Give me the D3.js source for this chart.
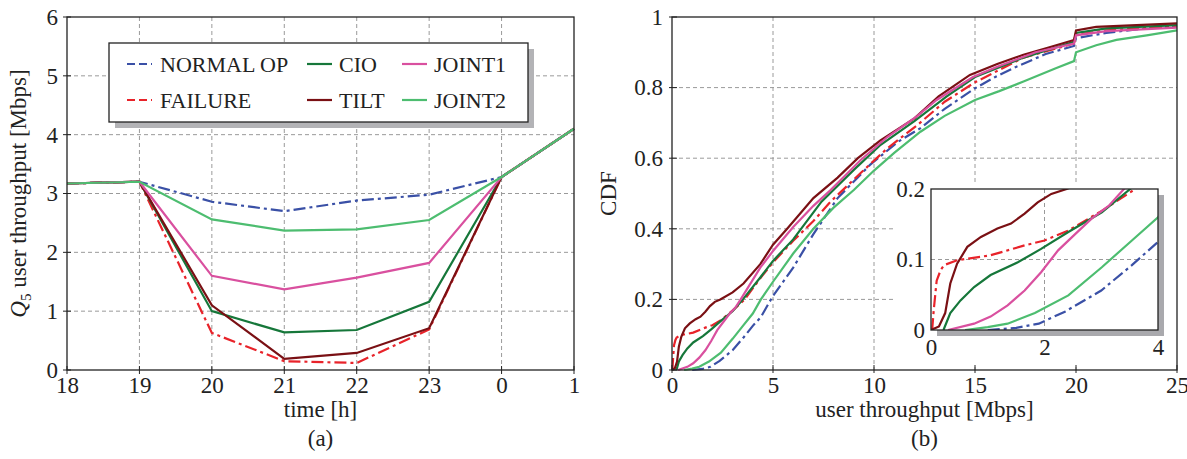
<!DOCTYPE html>
<html>
<head>
<meta charset="utf-8">
<script src="https://cdn.jsdelivr.net/npm/d3@7"></script>
<style>
  body { margin: 0; background: #fff; }
  svg text { font-family: "Liberation Serif", "DejaVu Serif", serif; fill: #222; }
</style>
</head>
<body>
<svg id="chart" width="1187" height="459"></svg>
<script>
// ---- data: panel (a), Q5 throughput per hour
var hours = ["18", "19", "20", "21", "22", "23", "0", "1"];
var normalOp = [3.17, 3.2, 2.86, 2.7, 2.88, 2.98, 3.28, 4.1];
var failure = [3.17, 3.2, 0.63, 0.15, 0.12, 0.69, 3.28, 4.1];
var cio = [3.17, 3.2, 1.0, 0.64, 0.68, 1.16, 3.28, 4.1];
var tilt = [3.17, 3.2, 1.1, 0.19, 0.29, 0.71, 3.28, 4.1];
var joint1 = [3.17, 3.2, 1.6, 1.37, 1.57, 1.82, 3.28, 4.1];
var joint2 = [3.17, 3.2, 2.56, 2.37, 2.39, 2.55, 3.28, 4.1];

// ---- data: panel (b), CDF of user throughput [Mbps, CDF]
var cdfNormalOp = [[1.0, 0], [1.5, 0.003], [1.9, 0.009], [2.36, 0.026], [3.0, 0.056], [3.54, 0.092], [4.0, 0.125], [4.4, 0.15], [5.0, 0.21], [6.0, 0.29], [7.0, 0.385], [8.2, 0.487], [9.8, 0.581], [11.2, 0.647], [12.3, 0.685], [13.5, 0.74], [15.0, 0.798], [16.0, 0.83], [17.0, 0.858], [18.5, 0.895], [19.9, 0.918], [20.0, 0.94], [21.5, 0.955], [23, 0.965], [25, 0.975]];
var cdfFailure = [[0.02, 0], [0.05, 0.03], [0.1, 0.07], [0.17, 0.085], [0.23, 0.092], [0.46, 0.099], [1.05, 0.106], [1.65, 0.12], [2.0, 0.127], [2.42, 0.141], [3.01, 0.169], [3.6, 0.2], [4.37, 0.26], [5.0, 0.305], [6.0, 0.366], [7.0, 0.422], [7.85, 0.477], [9.34, 0.558], [10.66, 0.628], [12.15, 0.694], [13.5, 0.76], [15.0, 0.815], [17.4, 0.885], [19.9, 0.925], [20.0, 0.95], [21.5, 0.962], [25, 0.975]];
var cdfCio = [[0.22, 0], [0.34, 0.024], [0.52, 0.042], [0.76, 0.061], [1.05, 0.078], [1.53, 0.096], [1.94, 0.115], [2.42, 0.139], [3.01, 0.167], [3.51, 0.2], [4.37, 0.262], [5.0, 0.309], [6.0, 0.37], [7.4, 0.477], [9.0, 0.567], [10.33, 0.638], [12.0, 0.705], [13.6, 0.775], [15.0, 0.83], [17.4, 0.885], [19.9, 0.93], [20.0, 0.955], [21.5, 0.968], [25, 0.977]];
var cdfTilt = [[0, 0], [0.14, 0.005], [0.25, 0.024], [0.34, 0.066], [0.46, 0.094], [0.64, 0.118], [0.88, 0.132], [1.17, 0.144], [1.41, 0.151], [1.65, 0.165], [1.88, 0.181], [2.12, 0.193], [2.39, 0.2], [3.0, 0.22], [3.54, 0.245], [4.37, 0.3], [5.0, 0.355], [5.7, 0.4], [7.0, 0.487], [8.2, 0.545], [9.2, 0.6], [10.3, 0.65], [12.0, 0.713], [13.2, 0.775], [14.75, 0.836], [16.1, 0.867], [17.4, 0.893], [18.6, 0.913], [19.9, 0.935], [20.0, 0.962], [21.0, 0.972], [25, 0.982]];
var cdfJoint1 = [[0.3, 0], [0.76, 0.009], [1.05, 0.019], [1.35, 0.035], [1.65, 0.056], [1.94, 0.082], [2.24, 0.113], [2.54, 0.136], [2.83, 0.158], [3.13, 0.176], [3.4, 0.2], [4.37, 0.29], [5.0, 0.337], [6.0, 0.405], [7.0, 0.465], [7.85, 0.51], [9.34, 0.595], [10.66, 0.66], [12.15, 0.72], [13.1, 0.765], [14.9, 0.83], [16.1, 0.859], [18.0, 0.9], [19.9, 0.925], [20.0, 0.948], [21.5, 0.96], [25, 0.97]];
var cdfJoint2 = [[0.6, 0], [1.0, 0.004], [1.35, 0.009], [1.83, 0.024], [2.42, 0.049], [3.01, 0.089], [3.54, 0.127], [4.0, 0.16], [4.4, 0.2], [5.0, 0.25], [6.0, 0.33], [7.0, 0.4], [8.0, 0.46], [9.0, 0.51], [10.0, 0.565], [11.0, 0.615], [12.3, 0.675], [13.5, 0.72], [15.0, 0.765], [16.2, 0.79], [17.4, 0.817], [19.0, 0.855], [19.9, 0.875], [20.0, 0.9], [21.0, 0.92], [22.0, 0.935], [23.5, 0.948], [25, 0.962]];

var seriesNames = ["NORMAL OP", "FAILURE", "CIO", "TILT", "JOINT1", "JOINT2"];
var q5Values = [normalOp, failure, cio, tilt, joint1, joint2];
var cdfValues = [cdfNormalOp, cdfFailure, cdfCio, cdfTilt, cdfJoint1, cdfJoint2];
var cdfTicksX = [0, 5, 10, 15, 20, 25];
var cdfTicksY = [0, 0.2, 0.4, 0.6, 0.8, 1];
var q5TicksY = [0, 1, 2, 3, 4, 5, 6];
var insTicksX = [0, 2, 4];
var insTicksY = [0, 0.1, 0.2];

// ---- styles
var colors = ["#3a50a6", "#e8232a", "#16773a", "#7a1014", "#d9509f", "#4dbd70"];
var dashes = ["12,4,3,4", "12,4,3,4", null, null, null, null];
var gridColor = "#9a9a9a";
var fontSize = 23;
var serif = "'Liberation Serif', 'DejaVu Serif', serif";

var svg = d3.select("#chart");

function dashedLine(g, x1, y1, x2, y2) {
  g.append("line")
    .attr("x1", x1).attr("y1", y1).attr("x2", x2).attr("y2", y2)
    .attr("stroke", gridColor)
    .attr("stroke-width", 1)
    .attr("stroke-dasharray", "4,3");
}

function tickNum(d) {
  return d === 0 || d === 1 ? String(d) : d3.format(".1f")(d);
}

// ================= panel (a) =================
var a = { left: 67, right: 574, top: 17, bottom: 370 };
var xA = d3.scalePoint().domain(hours).range([a.left, a.right]);
var yA = d3.scaleLinear().domain([0, 6]).range([a.bottom, a.top]);

var gA = svg.append("g");

// grid
hours.slice(1, -1).forEach(h => dashedLine(gA, xA(h), a.top, xA(h), a.bottom));
q5TicksY.slice(1, -1).forEach(v => dashedLine(gA, a.left, yA(v), a.right, yA(v)));

// lines
var lineA = d3.line()
  .x((d, i) => xA(hours[i]))
  .y(d => yA(d));

q5Values.forEach((vals, i) => {
  gA.append("path")
    .datum(vals)
    .attr("d", lineA)
    .attr("fill", "none")
    .attr("stroke", colors[i])
    .attr("stroke-width", 2.2)
    .attr("stroke-dasharray", dashes[i]);
});

// frame
gA.append("rect")
  .attr("x", a.left).attr("y", a.top)
  .attr("width", a.right - a.left).attr("height", a.bottom - a.top)
  .attr("fill", "none").attr("stroke", "#222").attr("stroke-width", 1.3);

// axes
gA.append("g")
  .attr("transform", "translate(0," + a.bottom + ")")
  .call(d3.axisBottom(xA).tickSize(0).tickPadding(7))
  .call(g => g.select(".domain").remove());
gA.append("g")
  .attr("transform", "translate(" + a.left + ",0)")
  .call(d3.axisLeft(yA).tickValues(q5TicksY).tickFormat(d3.format("d")).tickSize(0).tickPadding(9))
  .call(g => g.select(".domain").remove());

// tick marks crossing the axes
hours.forEach(h => {
  gA.append("line").attr("x1", xA(h)).attr("x2", xA(h)).attr("y1", a.bottom - 4).attr("y2", a.bottom + 4).attr("stroke", "#222");
});
q5TicksY.forEach(v => {
  gA.append("line").attr("x1", a.left - 4).attr("x2", a.left + 4).attr("y1", yA(v)).attr("y2", yA(v)).attr("stroke", "#222");
});

// legend
var legend = { x: 109, y: 43, w: 419, h: 79 };
gA.append("rect")
  .attr("x", legend.x + 6).attr("y", legend.y + 6)
  .attr("width", legend.w).attr("height", legend.h)
  .attr("fill", "#b3b3b6");
gA.append("rect")
  .attr("x", legend.x).attr("y", legend.y)
  .attr("width", legend.w).attr("height", legend.h)
  .attr("fill", "#fff").attr("stroke", "#222").attr("stroke-width", 1.3);

var legCols = [127, 307, 402];
var legTextCols = [160, 339, 434];
var legRows = [64, 100];
seriesNames.forEach((name, i) => {
  var col = Math.floor(i / 2), row = i % 2;
  gA.append("line")
    .attr("x1", legCols[col]).attr("x2", legCols[col] + 25)
    .attr("y1", legRows[row]).attr("y2", legRows[row])
    .attr("stroke", colors[i]).attr("stroke-width", 2.2)
    .attr("stroke-dasharray", dashes[i] ? "8,4" : null);
  gA.append("text")
    .attr("x", legTextCols[col]).attr("y", legRows[row])
    .attr("dy", "0.35em")
    .style("font-size", "22px")
    .text(name);
});

// labels
var yLab = gA.append("text")
  .attr("transform", "translate(26," + (a.top + a.bottom) / 2 + ") rotate(-90)")
  .attr("text-anchor", "middle")
  .style("font-size", fontSize + "px");
yLab.append("tspan").style("font-style", "italic").text("Q");
yLab.append("tspan").attr("dy", 5).style("font-size", "15px").text("5");
yLab.append("tspan").attr("dy", -5).text(" user throughput [Mbps]");

gA.append("text")
  .attr("x", (a.left + a.right) / 2).attr("y", 417)
  .attr("text-anchor", "middle")
  .style("font-size", fontSize + "px")
  .text("time [h]");
gA.append("text")
  .attr("x", (a.left + a.right) / 2).attr("y", 446)
  .attr("text-anchor", "middle")
  .style("font-size", fontSize + "px")
  .text("(a)");

// ================= panel (b) =================
var b = { left: 672, right: 1177, top: 17, bottom: 370 };
var xB = d3.scaleLinear().domain([0, 25]).range([b.left, b.right]);
var yB = d3.scaleLinear().domain([0, 1]).range([b.bottom, b.top]);

var gB = svg.append("g");

cdfTicksX.slice(1, -1).forEach(v => dashedLine(gB, xB(v), b.top, xB(v), b.bottom));
cdfTicksY.slice(1, -1).forEach(v => dashedLine(gB, b.left, yB(v), b.right, yB(v)));

// blank area behind the inset
gB.append("rect")
  .attr("x", 894).attr("y", 185)
  .attr("width", b.right - 894).attr("height", b.bottom - 4 - 185)
  .attr("fill", "#fff");

var lineB = d3.line()
  .x(d => xB(d[0]))
  .y(d => yB(d[1]));

cdfValues.forEach((vals, i) => {
  gB.append("path")
    .datum(vals)
    .attr("d", lineB)
    .attr("fill", "none")
    .attr("stroke", colors[i])
    .attr("stroke-width", 2.2)
    .attr("stroke-dasharray", dashes[i]);
});

gB.append("rect")
  .attr("x", b.left).attr("y", b.top)
  .attr("width", b.right - b.left).attr("height", b.bottom - b.top)
  .attr("fill", "none").attr("stroke", "#222").attr("stroke-width", 1.3);

gB.append("g")
  .attr("transform", "translate(0," + b.bottom + ")")
  .call(d3.axisBottom(xB).tickValues(cdfTicksX).tickFormat(d3.format("d")).tickSize(0).tickPadding(7))
  .call(g => g.select(".domain").remove());
gB.append("g")
  .attr("transform", "translate(" + b.left + ",0)")
  .call(d3.axisLeft(yB).tickValues(cdfTicksY).tickFormat(tickNum).tickSize(0).tickPadding(9))
  .call(g => g.select(".domain").remove());

cdfTicksX.forEach(v => {
  gB.append("line").attr("x1", xB(v)).attr("x2", xB(v)).attr("y1", b.bottom - 5).attr("y2", b.bottom + 3).attr("stroke", "#222");
});
cdfTicksY.forEach(v => {
  gB.append("line").attr("x1", b.left - 3).attr("x2", b.left + 5).attr("y1", yB(v)).attr("y2", yB(v)).attr("stroke", "#222");
});

gB.append("text")
  .attr("transform", "translate(616," + (b.top + b.bottom) / 2 + ") rotate(-90)")
  .attr("text-anchor", "middle")
  .style("font-size", fontSize + "px")
  .text("CDF");
gB.append("text")
  .attr("x", (b.left + b.right) / 2).attr("y", 417)
  .attr("text-anchor", "middle")
  .style("font-size", fontSize + "px")
  .text("user throughput [Mbps]");
gB.append("text")
  .attr("x", (b.left + b.right) / 2).attr("y", 446)
  .attr("text-anchor", "middle")
  .style("font-size", fontSize + "px")
  .text("(b)");

// ---- inset (zoom on low throughputs)
var ins = { left: 931, right: 1158, top: 189, bottom: 330 };
var xI = d3.scaleLinear().domain([0, 4]).range([ins.left, ins.right]);
var yI = d3.scaleLinear().domain([0, 0.2]).range([ins.bottom, ins.top]);

var gI = svg.append("g");
gI.append("rect")
  .attr("x", ins.left + 6).attr("y", ins.top + 6)
  .attr("width", ins.right - ins.left).attr("height", ins.bottom - ins.top)
  .attr("fill", "#a9a9ad");
gI.append("rect")
  .attr("x", ins.left).attr("y", ins.top)
  .attr("width", ins.right - ins.left).attr("height", ins.bottom - ins.top)
  .attr("fill", "#fff");

gI.append("clipPath").attr("id", "insetClip")
  .append("rect")
  .attr("x", ins.left).attr("y", ins.top)
  .attr("width", ins.right - ins.left).attr("height", ins.bottom - ins.top);

dashedLine(gI, xI(2), ins.top, xI(2), ins.bottom);
dashedLine(gI, ins.left, yI(0.1), ins.right, yI(0.1));

var lineI = d3.line()
  .x(d => xI(d[0]))
  .y(d => yI(d[1]));

var gLines = gI.append("g").attr("clip-path", "url(#insetClip)");
cdfValues.forEach((vals, i) => {
  gLines.append("path")
    .datum(vals.filter(d => d[0] <= 5))
    .attr("d", lineI)
    .attr("fill", "none")
    .attr("stroke", colors[i])
    .attr("stroke-width", 2.2)
    .attr("stroke-dasharray", dashes[i]);
});

gI.append("rect")
  .attr("x", ins.left).attr("y", ins.top)
  .attr("width", ins.right - ins.left).attr("height", ins.bottom - ins.top)
  .attr("fill", "none").attr("stroke", "#222").attr("stroke-width", 1.3);

gI.append("g")
  .attr("transform", "translate(0," + ins.bottom + ")")
  .call(d3.axisBottom(xI).tickValues(insTicksX).tickFormat(d3.format("d")).tickSize(0).tickPadding(9))
  .call(g => g.select(".domain").remove());
gI.append("g")
  .attr("transform", "translate(" + ins.left + ",0)")
  .call(d3.axisLeft(yI).tickValues(insTicksY).tickFormat(tickNum).tickSize(0).tickPadding(6))
  .call(g => g.select(".domain").remove());

// axis tick text styling
svg.selectAll(".tick text")
  .style("font-size", fontSize + "px")
  .style("font-family", serif)
  .attr("fill", "#222");
</script>
</body>
</html>
